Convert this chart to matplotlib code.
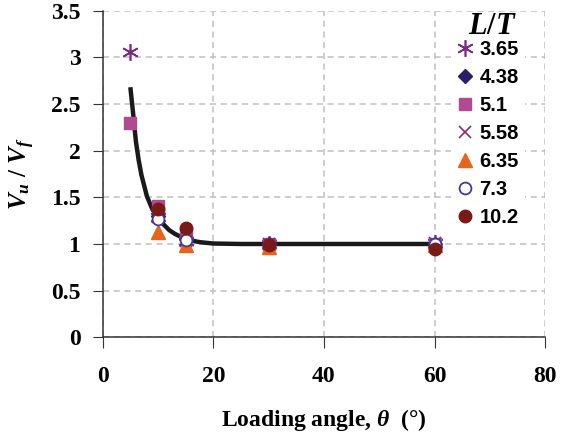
import numpy as np
import matplotlib
matplotlib.use("Agg")
import matplotlib.pyplot as plt

plt.rcParams['font.family'] = 'Liberation Serif'
plt.rcParams['font.weight'] = 'bold'
plt.rcParams['axes.labelweight'] = 'bold'
plt.rcParams['mathtext.fontset'] = 'custom'
plt.rcParams['mathtext.it'] = 'Liberation Serif:italic:bold'
plt.rcParams['mathtext.rm'] = 'Liberation Serif:bold'
plt.rcParams['mathtext.bf'] = 'Liberation Serif:bold'

# L/T series: angles and Vu/Vf
lt_labels = ["3.65", "4.38", "5.1", "5.58", "6.35", "7.3", "10.2"]
angles_365 = [5, 10, 15, 30, 60]
ratio_365 = [3.06, 1.29, 1.03, 1.00, 1.01]
angles_438 = [10, 15, 30, 60]
ratio_438 = [1.30, 1.05, 1.00, 1.00]
angles_51 = [5, 10, 15, 30, 60]
ratio_51 = [2.30, 1.41, 1.11, 1.00, 1.00]
angles_558 = [10, 15, 30, 60]
ratio_558 = [1.29, 1.03, 1.00, 1.01]
angles_635 = [10, 15, 30, 60]
ratio_635 = [1.13, 0.99, 0.97, 0.99]
angles_73 = [10, 15, 30, 60]
ratio_73 = [1.27, 1.04, 1.00, 1.00]
angles_102 = [10, 15, 30, 60]
ratio_102 = [1.37, 1.17, 0.99, 0.95]

# fitted trend line
curve_x = [5, 5.5, 6, 6.5, 7, 8, 9, 10, 11, 12, 13, 15, 17.5, 20, 25, 30, 60]
curve_y = [2.68, 2.40, 2.10, 1.90, 1.74, 1.51, 1.37, 1.29, 1.21, 1.15, 1.11,
           1.05, 1.02, 1.005, 1.0, 1.0, 1.0]

x_ticks = [0, 20, 40, 60, 80]
y_ticks = [0, 0.5, 1, 1.5, 2, 2.5, 3, 3.5]
y_ticklabels = ["0", "0.5", "1", "1.5", "2", "2.5", "3", "3.5"]

fig = plt.figure(figsize=(5.69, 4.38), dpi=100)
ax = fig.add_axes([0.1805, 0.2299, 0.7775, 0.7457])

ax.plot(curve_x, curve_y, color='#1a1a1a', lw=3.2, zorder=2, solid_capstyle='butt')

styles = [
    (angles_365, ratio_365, dict(marker=(6, 2, 0), color='#7d2a86', ms=12, mew=1.2)),
    (angles_438, ratio_438, dict(marker='D', color='#2b1d6b', ms=7.5)),
    (angles_51, ratio_51, dict(marker='s', color='#b04a91', ms=9)),
    (angles_558, ratio_558, dict(marker='x', color='#8c2a72', ms=9, mew=1.2)),
    (angles_635, ratio_635, dict(marker='^', color='#e8641c', ms=9.5)),
    (angles_73, ratio_73, dict(marker='o', color='#3c3c9c', mfc='white', ms=8.5, mew=1.3)),
    (angles_102, ratio_102, dict(marker='o', color='#7a1a17', ms=9)),
]
for (xs, ys, st), lab in zip(styles, lt_labels):
    ax.plot(xs, ys, linestyle='none', label=lab, zorder=3, **st)

ax.set_xlim(0, 80)
ax.set_ylim(0, 3.5)
ax.set_xticks(x_ticks)
ax.set_yticks(y_ticks)
ax.set_yticklabels(y_ticklabels)
ax.tick_params(axis='x', direction='out', length=8, pad=13, labelsize=17, color='#333333')
ax.tick_params(axis='y', direction='out', length=7, pad=9, labelsize=17, color='#333333')

ax.grid(True, color='#c0c0c0', linestyle=(0, (4, 3)), lw=1.1)
ax.set_axisbelow(True)
for s in ['top', 'right']:
    ax.spines[s].set_visible(False)
for s in ['left', 'bottom']:
    ax.spines[s].set_color('#333333')
    ax.spines[s].set_linewidth(1.1)

ax.set_xlabel(r'Loading angle, $\theta$  (°)', fontsize=17, labelpad=14)
ax.set_ylabel(r'$V_u\ /\ V_f$', fontsize=18, labelpad=10)

leg = ax.legend(loc='upper left', bbox_to_anchor=(0.765, 0.96), frameon=True,
                facecolor='white', edgecolor='none', framealpha=1,
                prop={'family': 'Liberation Sans', 'weight': 'bold', 'size': 14.5},
                handlelength=0.8, handletextpad=0.3, labelspacing=0.45,
                borderpad=0.3, numpoints=1)
leg.set_zorder(5)

ax.text(0.88, 0.995, r'$L/T$', transform=ax.transAxes, ha='center', va='top',
        fontsize=22, zorder=6)

fig.savefig('out.png', dpi=100)
